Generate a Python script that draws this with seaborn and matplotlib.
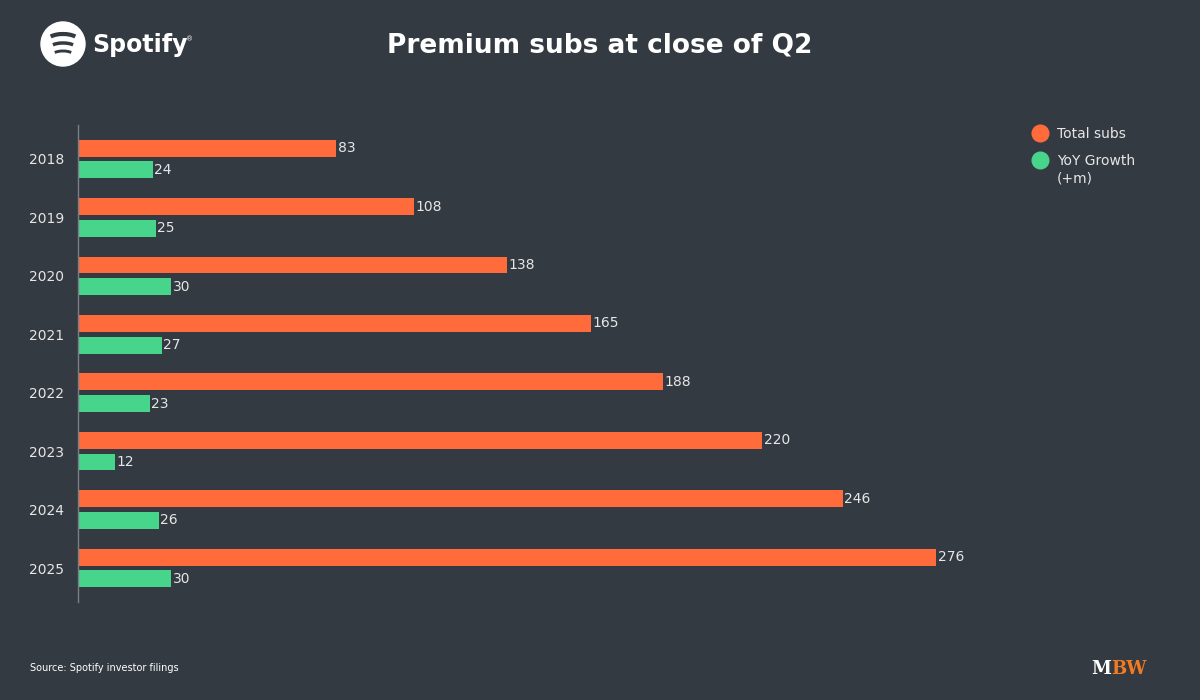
import pandas as pd
import matplotlib.pyplot as plt
import matplotlib.patches as mpatches
from matplotlib.lines import Line2D
import seaborn as sns

years = ["2018", "2019", "2020", "2021", "2022", "2023", "2024", "2025"]
total_subs = [83, 108, 138, 165, 188, 220, 246, 276]
yoy_growth = [24, 25, 30, 27, 23, 12, 26, 30]
series_names = ["Total subs", "YoY Growth\n(+m)"]

bg = "#343a42"
orange = "#ff6b3b"
green = "#47d48b"
txt = "#e6e6e6"

df = pd.DataFrame({
    "year": years * 2,
    "value": total_subs + yoy_growth,
    "series": [series_names[0]] * len(years) + [series_names[1]] * len(years),
})

sns.set_theme(style="dark")
plt.rcParams["font.family"] = ["DejaVu Sans"]

fig = plt.figure(figsize=(12, 7), dpi=100, facecolor=bg)
ax = fig.add_axes([0.065, 0.14, 0.7775, 0.6814])
ax.set_facecolor(bg)

sns.barplot(data=df, y="year", x="value", hue="series", orient="h",
            palette=[orange, green], saturation=1, width=0.74, gap=0.22,
            linewidth=0, edgecolor="none", ax=ax, legend=False)

for cont in ax.containers:
    ax.bar_label(cont, padding=1, color=txt, fontsize=10)

ax.set_xlim(0, 300)
ax.set_ylim(7.58, -0.58)
ax.set_xlabel("")
ax.set_ylabel("")
ax.set_xticks([])
ax.tick_params(axis="y", colors=txt, labelsize=10, length=0, pad=10)
for s in ["top", "right", "bottom"]:
    ax.spines[s].set_visible(False)
ax.spines["left"].set_color("#7a7f86")
ax.spines["left"].set_linewidth(1)
ax.grid(False)

# legend: marker lines up with the first line of each label
for i, (name, c) in enumerate(zip(series_names, [orange, green])):
    yy = 1 - (133 + i * 27) / 700
    fig.add_artist(Line2D([1040 / 1200], [yy], marker="o", linestyle="", markersize=12,
                          markerfacecolor=c, markeredgecolor=c, transform=fig.transFigure))
    fig.text(1057 / 1200, yy + 6 / 700, name, ha="left", va="top", color=txt,
             fontsize=10, linespacing=1.35)

fig.text(0.5, 1 - 45 / 700, "Premium subs at close of Q2", ha="center", va="center",
         color="white", fontsize=19, fontweight="bold")

# spotify logo
circ = mpatches.Circle((63, 656), 22, transform=None, color="white")
fig.patches.append(circ)
for top, w, h, lw in [(666, 32, 14, 3.0), (657, 27, 11, 2.5), (649, 22, 9, 2.1)]:
    arc = mpatches.Arc((63, top - h / 2), w, h, theta1=20, theta2=160,
                       transform=None, color=bg, linewidth=lw)
    fig.patches.append(arc)
fig.text(92 / 1200, 1 - 45 / 700, "Spotify", ha="left", va="center", color="white",
         fontsize=17, fontweight="bold")
fig.text(186 / 1200, 1 - 39 / 700, "®", ha="left", va="center", color="white", fontsize=5)

fig.text(30 / 1200, 1 - 668 / 700, "Source: Spotify investor filings", ha="left",
         va="center", color="white", fontsize=7)
fig.text(1111 / 1200, 1 - 669 / 700, "M", ha="right", va="center", color="white",
         fontsize=13, fontweight="bold", family="DejaVu Serif")
fig.text(1111 / 1200, 1 - 669 / 700, "BW", ha="left", va="center", color="#f47a20",
         fontsize=13, fontweight="bold", family="DejaVu Serif")

fig.savefig("out.png", dpi=100, facecolor=bg)
